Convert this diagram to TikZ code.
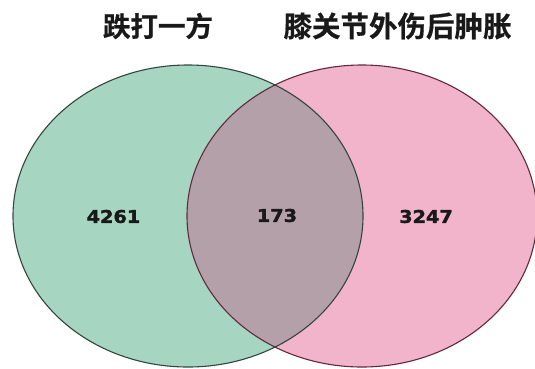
\documentclass[tikz,border=0pt]{standalone}
\usepackage{fontspec}
\newfontfamily\cjk{Noto Sans CJK SC}[BoldFont={Noto Sans CJK SC Bold}, BoldFeatures={FakeBold=0.6}]
\newfontfamily\numfont{DejaVu Sans}[BoldFeatures={FakeBold=1.8}]
\definecolor{vgreen}{RGB}{166,213,194}
\definecolor{vpink}{RGB}{241,180,202}
\definecolor{vover}{RGB}{180,160,168}
\definecolor{vgline}{RGB}{50,70,62}
\definecolor{vpline}{RGB}{100,40,60}
\begin{document}
\begin{tikzpicture}[x=1pt,y=-1pt,
  title/.style={font=\cjk\bfseries\fontsize{27.5}{30}\selectfont, inner sep=0pt, text=black!90},
  count/.style={font=\numfont\bfseries\fontsize{17.5}{20}\selectfont, inner sep=0pt, text=black!90, xscale=1.1}]
\useasboundingbox (0,0) rectangle (535,368);
\fill[white] (0,0) rectangle (535,368);
% fills
\fill[vgreen] (188,216) ellipse [x radius=175, y radius=151];
\fill[vpink] (362,216) ellipse [x radius=175, y radius=151];
\begin{scope}
  \clip (188,216) ellipse [x radius=175, y radius=151];
  \fill[vover] (362,216) ellipse [x radius=175, y radius=151];
\end{scope}
% outlines
\draw[vgline, line width=1.1pt] (188,216) ellipse [x radius=175, y radius=151];
\draw[vpline, line width=1.1pt] (362,216) ellipse [x radius=175, y radius=151];
% titles
\node[title] (tl) at (158,26) {跌打一方};
\node[title, font=\cjk\bfseries\fontsize{28.5}{30}\selectfont] (tr) at (397.5,26) {膝关节外伤后肿胀};
% counts
\node[count] (a) at (113.5,216.5) {4261};
\node[count] (ab) at (277,215.5) {173};
\node[count] (b) at (426,216.5) {3247};
\end{tikzpicture}
\end{document}
